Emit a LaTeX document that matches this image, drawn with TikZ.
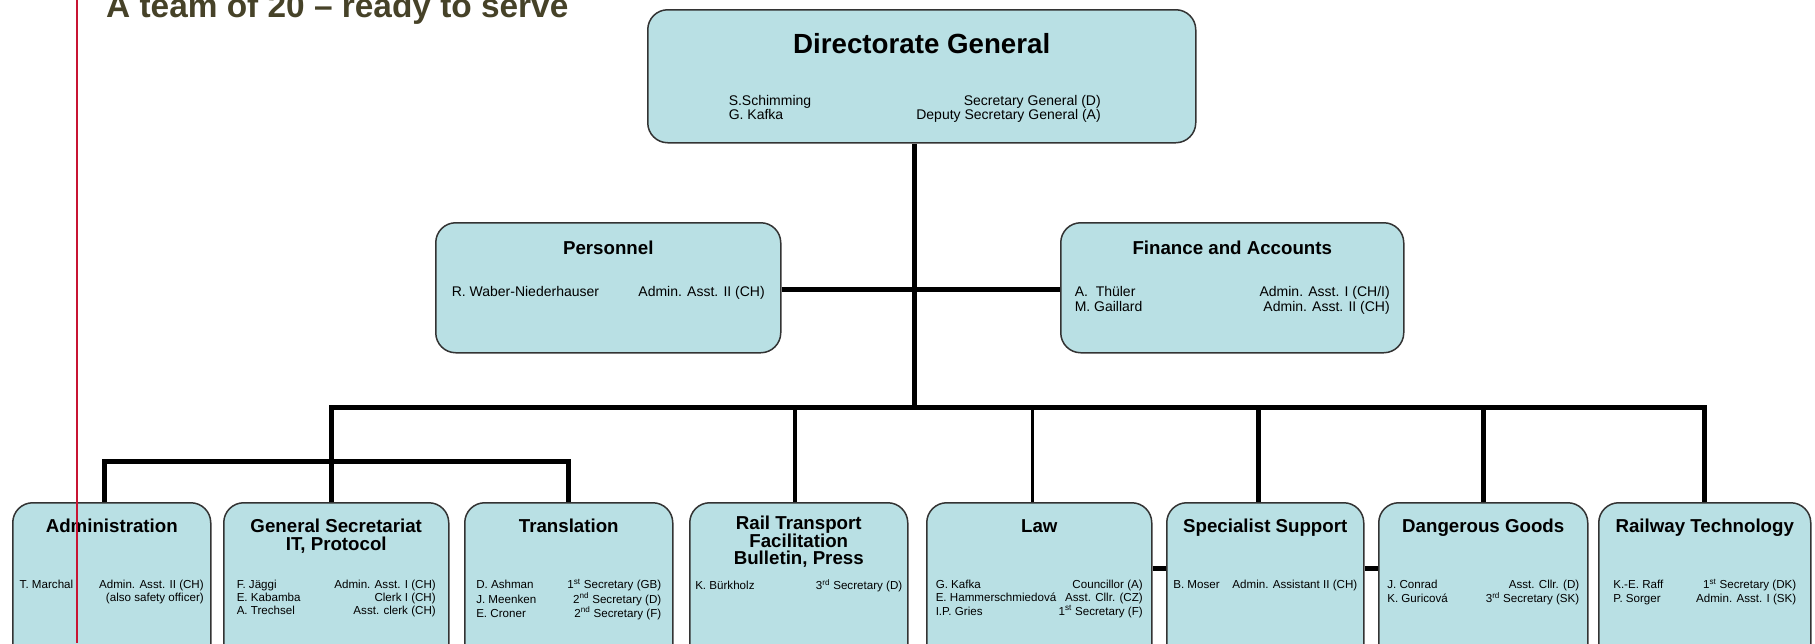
\documentclass[tikz,border=0pt]{standalone}
\usepackage{fontspec}
\setmainfont{Liberation Sans}
\usetikzlibrary{calc,positioning}
\definecolor{unitfill}{RGB}{185,224,228}
\definecolor{headcol}{RGB}{70,66,40}
\definecolor{marginred}{RGB}{200,20,50}
\tikzset{
    unit/.style = {draw=black!80, fill=unitfill, rectangle,
        rounded corners=20pt, line width=1.5pt,
        anchor=north west, inner sep=0pt},
    head/.style = {font=\fontsize{18.7}{17.5}\selectfont\bfseries,
        align=center, inner sep=0pt},
    bighead/.style = {font=\fontsize{27.7}{30}\selectfont\bfseries, inner sep=0pt},
    staff/.style = {font=\fontsize{14}{15}\selectfont, inner sep=0pt},
    smallstaff/.style = {font=\fontsize{11.6}{13.2}\selectfont, inner sep=0pt},
    link/.style = {draw, line width=5pt},
    thinlink/.style = {draw, line width=3.5pt}
}
\newcommand{\members}[2]{%
    \begin{tabular*}{#1pt}{@{}l@{\extracolsep{\fill}}r@{}}#2\end{tabular*}}

\begin{document}
\begin{tikzpicture}[x=1pt, y=-1pt]
    \useasboundingbox (0,0) rectangle (1815,643);
    \clip (0,0) rectangle (1815,643);
    % heading
    \node[anchor=base west, inner sep=0pt, text=headcol,
        font=\fontsize{33.4}{36}\selectfont\bfseries] (heading) at (106,17)
        {A team of 20 – ready to serve};
    % top level
    \node[unit, minimum width=548pt, minimum height=133pt] (dg) at (647,9) {};
    \node[bighead, below=24pt of dg.north] (dg-t) {Directorate General};
    \node[staff, font=\fontsize{14}{12.5}\selectfont, below=86.5pt of dg.north, xshift=-7pt] (dg-s)
        {\members{372}{S.Schimming & Secretary General (D)\\
        G. Kafka & Deputy Secretary General (A)}};
    \node[unit, minimum width=345pt, minimum height=130pt] (pers) at (435,222) {};
    \node[head, below=19pt of pers.north] (pers-t) {Personnel};
    \node[staff, below=63.5pt of pers.north] (pers-s) {\members{313}{R. Waber-Niederhauser & Admin. Asst. II (CH)}};
    \node[unit, minimum width=343pt, minimum height=130pt] (fin) at (1060,222) {};
    \node[head, below=19pt of fin.north] (fin-t) {Finance and Accounts};
    \node[staff, below=63.5pt of fin.north] (fin-s) {\members{315}{A.\ \ Thüler & Admin. Asst. I (CH/I)\\
        M. Gaillard & Admin. Asst. II (CH)}};
    % departments
    \node[unit, minimum width=198pt, minimum height=170pt] (adm) at (12,502) {};
    \node[head, below=17pt of adm.north] (adm-t) {Administration};
    \node[smallstaff, below=77pt of adm.north] (adm-s) {\members{184}{T. Marchal & Admin. Asst. II (CH)\\
        & (also safety officer)}};
    \node[unit, minimum width=225pt, minimum height=170pt] (gensec) at (223,502) {};
    \node[head, below=17pt of gensec.north] (gensec-t) {General Secretariat\\ IT, Protocol};
    \node[smallstaff, below=77pt of gensec.north] (gensec-s) {\members{199}{F. Jäggi & Admin. Asst. I (CH)\\
        E. Kabamba & Clerk I (CH)\\ A. Trechsel & Asst. clerk (CH)}};
    \node[unit, minimum width=208pt, minimum height=170pt] (transl) at (464,502) {};
    \node[head, below=17pt of transl.north] (transl-t) {Translation};
    \node[smallstaff, below=77pt of transl.north] (transl-s) {\members{185}{D. Ashman & 1\textsuperscript{st} Secretary (GB)\\
        J. Meenken & 2\textsuperscript{nd} Secretary (D)\\ E. Croner & 2\textsuperscript{nd} Secretary (F)}};
    \node[unit, minimum width=218pt, minimum height=170pt] (rail) at (689,502) {};
    \node[head, below=14pt of rail.north] (rail-t) {Rail Transport\\ Facilitation\\ Bulletin, Press};
    \node[smallstaff, below=77pt of rail.north] (rail-s) {\members{207}{K. Bürkholz & 3\textsuperscript{rd} Secretary (D)}};
    \node[unit, minimum width=225pt, minimum height=170pt] (law) at (926,502) {};
    \node[head, below=17pt of law.north] (law-t) {Law};
    \node[smallstaff, below=77pt of law.north] (law-s) {\members{207}{G. Kafka & Councillor (A)\\
        E. Hammerschmiedová & Asst. Cllr. (CZ)\\ I.P. Gries & 1\textsuperscript{st} Secretary (F)}};
    \node[unit, minimum width=197pt, minimum height=170pt] (spec) at (1166,502) {};
    \node[head, below=17pt of spec.north] (spec-t) {Specialist Support};
    \node[smallstaff, below=77pt of spec.north] (spec-s) {\members{184}{B. Moser & Admin. Assistant II (CH)}};
    \node[unit, minimum width=209pt, minimum height=170pt] (dgoods) at (1378,502) {};
    \node[head, below=17pt of dgoods.north] (dgoods-t) {Dangerous Goods};
    \node[smallstaff, below=77pt of dgoods.north] (dgoods-s) {\members{192}{J. Conrad & Asst. Cllr. (D)\\
        K. Guricová & 3\textsuperscript{rd} Secretary (SK)}};
    \node[unit, minimum width=212pt, minimum height=170pt] (rtech) at (1598,502) {};
    \node[head, below=17pt of rtech.north] (rtech-t) {Railway Technology};
    \node[smallstaff, below=77pt of rtech.north] (rtech-s) {\members{183}{K.-E. Raff & 1\textsuperscript{st} Secretary (DK)\\
        P. Sorger & Admin. Asst. I (SK)}};
    % lines
    \coordinate (bus) at (914,407);
    \coordinate (subbus) at (331,461);
    \draw[link] (bus |- dg.south) -- (bus);
    \draw[link] ([yshift=-2pt]pers.east) -- ([yshift=-2pt]fin.west);
    \draw[link] ([xshift=-5pt]gensec.north) |- (bus) -| (rtech.north);
    \draw[link] ([xshift=-7pt]adm.north) |- (subbus) -| (transl.north);
    \draw[thinlink] ([xshift=-4pt]rail.north |- bus) -- ([xshift=-4pt]rail.north);
    \draw[thinlink] ([xshift=-7pt]law.north |- bus) -- ([xshift=-7pt]law.north);
    \draw[link] ([xshift=-7pt]spec.north |- bus) -- ([xshift=-7pt]spec.north);
    \draw[link] (dgoods.north |- bus) -- (dgoods.north);
    \draw[link] ([yshift=19pt]law.east) -- ([yshift=19pt]spec.west);
    \draw[link] ([yshift=19pt]spec.east) -- ([yshift=19pt]dgoods.west);
    % margin rule
    \draw[marginred, line width=2.5pt] (77,0) -- (77,643);
\end{tikzpicture}
\end{document}
